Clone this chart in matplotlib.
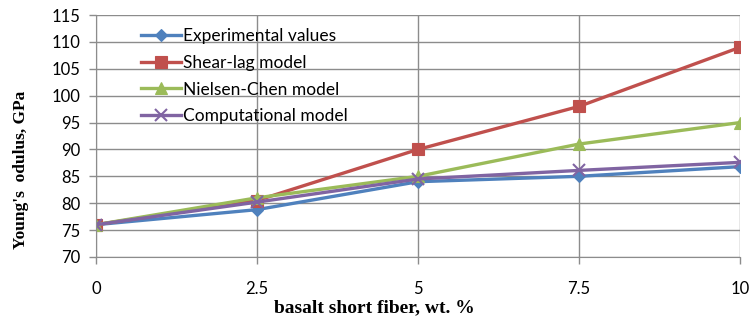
import matplotlib
matplotlib.use("Agg")
import matplotlib.pyplot as plt

# data
fiber = [0, 2.5, 5, 7.5, 10]
experimental = [76, 78.8, 84, 85, 86.8]
shear_lag = [76, 80.5, 90, 98, 109]
nielsen_chen = [76, 81, 85, 91, 95]
computational = [76, 80.2, 84.5, 86.1, 87.6]

series = [
    ("Experimental values", experimental, "#4F81BD", "D", 6),
    ("Shear-lag model", shear_lag, "#C0504D", "s", 8),
    ("Nielsen-Chen model", nielsen_chen, "#9BBB59", "^", 8),
    ("Computational model", computational, "#8064A2", "x", 8),
]

fig = plt.figure(figsize=(7.49, 3.2), dpi=100)
ax = fig.add_axes([0.128, 0.197, 0.86, 0.756])

for name, vals, col, mk, ms in series:
    ax.plot(fiber, vals, color=col, lw=2.4, marker=mk, markersize=ms,
            markeredgewidth=1.5 if mk == "x" else 0.8, markeredgecolor=col,
            label=name)

ax.set_xlim(0, 10)
ax.set_ylim(70, 115)
ax.set_xticks(fiber)
ax.set_xticklabels(["0", "2.5", "5", "7.5", "10"])
ax.set_yticks(range(70, 116, 5))
ax.grid(True, color="#8c8c8c", lw=1)
ax.set_axisbelow(True)
for s in ["top", "right"]:
    ax.spines[s].set_visible(False)
for s in ["left", "bottom"]:
    ax.spines[s].set_color("#8c8c8c")
ax.tick_params(colors="#8c8c8c", labelcolor="black", length=5, width=1)
for lab in ax.get_xticklabels() + ax.get_yticklabels():
    lab.set_fontfamily("Lato")
    lab.set_fontsize(12)
ax.tick_params(axis="x", pad=12)
ax.tick_params(axis="y", pad=6)

# the labels sit off-centre in the original
ax.set_xlabel("basalt short fiber, wt. %", family="Liberation Serif",
              fontweight="bold", fontsize=14)
ax.xaxis.set_label_coords(0.433, -0.175)
ax.set_ylabel("Young's  odulus, GPa", family="Liberation Serif",
              fontweight="bold", fontsize=12.5)
ax.yaxis.set_label_coords(-0.104, 0.36)

ax.legend(loc="upper left", bbox_to_anchor=(0.06, 0.975), frameon=False,
          prop={"family": "Lato", "size": 12.5}, handlelength=2.3,
          handletextpad=0.1, labelspacing=0.62, borderaxespad=0)

fig.savefig("out.png", dpi=100)
